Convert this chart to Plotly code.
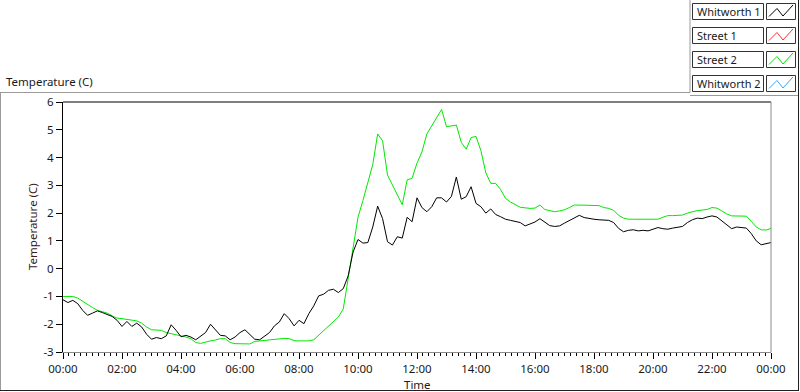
import plotly.graph_objects as go
import pandas as pd

# ---- data (10-minute samples, 00:00 .. 24:00) ----
whitworth1 = [
    -1.12, -1.22, -1.14, -1.26, -1.50, -1.68, -1.60, -1.52, -1.58, -1.64, -1.72, -1.86,
    -2.08, -1.90, -2.08, -1.96, -2.10, -2.36, -2.54, -2.48, -2.52, -2.42, -2.02, -2.22,
    -2.45, -2.40, -2.46, -2.56, -2.44, -2.30, -2.00, -2.22, -2.40, -2.42, -2.56, -2.46,
    -2.30, -2.20, -2.38, -2.54, -2.56, -2.44, -2.30, -2.06, -1.92, -1.62, -1.80, -2.06,
    -1.86, -1.98, -1.62, -1.34, -0.98, -0.92, -0.78, -0.74, -0.86, -0.72, -0.26, 0.60,
    1.05, 0.92, 0.94, 1.50, 2.25, 1.80, 0.97, 0.85, 1.15, 1.10, 1.85, 1.69,
    2.55, 2.20, 2.05, 2.23, 2.55, 2.55, 2.40, 2.60, 3.30, 2.50, 2.59, 2.95,
    2.35, 2.23, 2.00, 2.15, 1.95, 1.87, 1.78, 1.74, 1.70, 1.66, 1.54, 1.62,
    1.68, 1.80, 1.68, 1.55, 1.52, 1.54, 1.64, 1.74, 1.84, 1.92, 1.84, 1.80,
    1.78, 1.76, 1.75, 1.74, 1.66, 1.45, 1.33, 1.38, 1.40, 1.36, 1.38, 1.36,
    1.42, 1.48, 1.44, 1.42, 1.46, 1.50, 1.52, 1.66, 1.76, 1.82, 1.80, 1.86,
    1.90, 1.86, 1.72, 1.55, 1.44, 1.50, 1.48, 1.46, 1.26, 1.00, 0.86, 0.91,
    0.94,
]
street2 = [
    -1.00, -1.00, -1.00, -1.06, -1.18, -1.30, -1.40, -1.50, -1.56, -1.60, -1.70, -1.78,
    -1.80, -1.82, -1.84, -1.88, -1.96, -2.10, -2.20, -2.20, -2.22, -2.30, -2.34, -2.36,
    -2.40, -2.46, -2.52, -2.66, -2.69, -2.64, -2.60, -2.57, -2.52, -2.52, -2.66, -2.70,
    -2.70, -2.71, -2.71, -2.62, -2.60, -2.58, -2.55, -2.53, -2.51, -2.51, -2.52, -2.59,
    -2.60, -2.60, -2.60, -2.56, -2.40, -2.25, -2.06, -1.90, -1.74, -1.45, -0.40, 0.80,
    1.85, 2.45, 3.10, 3.75, 4.85, 4.60, 3.37, 3.00, 2.65, 2.30, 3.20, 3.25,
    3.80, 4.20, 4.85, 5.15, 5.45, 5.73, 5.11, 5.15, 5.17, 4.55, 4.30, 4.72,
    4.76, 4.25, 3.45, 3.07, 3.07, 2.85, 2.53, 2.40, 2.30, 2.21, 2.19, 2.17,
    2.18, 2.29, 2.13, 2.08, 2.05, 2.08, 2.12, 2.20, 2.29, 2.29, 2.29, 2.29,
    2.28, 2.27, 2.20, 2.17, 2.10, 1.92, 1.82, 1.78, 1.78, 1.78, 1.78, 1.78,
    1.78, 1.78, 1.85, 1.91, 1.91, 1.91, 1.93, 2.00, 2.05, 2.09, 2.11, 2.13,
    2.20, 2.18, 2.08, 1.97, 1.90, 1.89, 1.89, 1.89, 1.70, 1.50, 1.40, 1.39,
    1.45,
]
street1 = []
whitworth2 = []

series_names = ["Whitworth 1", "Street 1", "Street 2", "Whitworth 2"]
series_colors = ["#000000", "#ff3030", "#00e800", "#30a8ff"]

y_tickvals = [-3, -2, -1, 0, 1, 2, 3, 4, 5, 6]
y_ticktext = ["-3", "-2", "-1", "0", "1", "2", "3", "4", "5", "6"]

times = pd.date_range("2000-01-01 00:00", "2000-01-02 00:00", freq="10min")

FONT = "Noto Sans"
TXT = "#1a1a1a"

fig = go.Figure()
fig.add_trace(go.Scatter(x=times, y=street2, mode="lines", name=series_names[2],
                         line=dict(color=series_colors[2], width=1)))
fig.add_trace(go.Scatter(x=times[:len(street1)], y=street1, mode="lines", name=series_names[1],
                         line=dict(color=series_colors[1], width=1)))
fig.add_trace(go.Scatter(x=times[:len(whitworth2)], y=whitworth2, mode="lines", name=series_names[3],
                         line=dict(color=series_colors[3], width=1)))
fig.add_trace(go.Scatter(x=times, y=whitworth1, mode="lines", name=series_names[0],
                         line=dict(color=series_colors[0], width=1)))

# plot area in pixels
L, R, T, B = 63, 771, 102, 352
W, H = 800, 392


def px(x):
    return (x - L) / (R - L)


def py(y):
    return (B - y) / (B - T)


shapes = []
# plot frame: top black, right grey
shapes.append(dict(type="line", xref="paper", yref="paper", x0=0, x1=1, y0=1, y1=1,
                   line=dict(color="black", width=1)))
shapes.append(dict(type="line", xref="paper", yref="paper", x0=1, x1=1, y0=0, y1=1,
                   line=dict(color="#8a8a8a", width=1)))
# outer panel frame
grey = "#9a9a9a"
shapes.append(dict(type="line", xref="paper", yref="paper", x0=px(0), x1=px(690),
                   y0=py(92.5), y1=py(92.5), line=dict(color=grey, width=1)))
shapes.append(dict(type="line", xref="paper", yref="paper", x0=px(690), x1=px(690),
                   y0=py(92.5), y1=py(0), line=dict(color=grey, width=1)))
shapes.append(dict(type="line", xref="paper", yref="paper", x0=px(690), x1=px(799),
                   y0=py(95.5), y1=py(95.5), line=dict(color=grey, width=1)))
shapes.append(dict(type="line", xref="paper", yref="paper", x0=px(0.5), x1=px(0.5),
                   y0=py(92.5), y1=py(391), line=dict(color=grey, width=1)))
shapes.append(dict(type="line", xref="paper", yref="paper", x0=px(0), x1=px(799),
                   y0=py(390.5), y1=py(390.5), line=dict(color="#202020", width=1)))
shapes.append(dict(type="line", xref="paper", yref="paper", x0=px(798.5), x1=px(798.5),
                   y0=py(0), y1=py(391), line=dict(color="#202020", width=1)))

annotations = []
# legend (manual, LabVIEW style)
for i, (name, col) in enumerate(zip(series_names, series_colors)):
    top = 3.5 + 24 * i
    bot = top + 16
    shapes.append(dict(type="rect", xref="paper", yref="paper", x0=px(692.5), x1=px(763.5),
                       y0=py(bot), y1=py(top), line=dict(color="#333333", width=1),
                       fillcolor="white"))
    shapes.append(dict(type="rect", xref="paper", yref="paper", x0=px(766.5), x1=px(795.5),
                       y0=py(bot), y1=py(top), line=dict(color="#333333", width=1),
                       fillcolor="white"))
    pts = [(769, top + 13), (777, top + 5), (783, top + 12.5), (793, top + 1.5)]
    path = "M " + " L ".join(f"{px(a):.5f},{py(b):.5f}" for a, b in pts)
    shapes.append(dict(type="path", xref="paper", yref="paper", path=path,
                       line=dict(color=col, width=1)))
    annotations.append(dict(text=name, xref="paper", yref="paper", x=px(694.5), y=py(top + 8),
                            xanchor="left", yanchor="middle", showarrow=False,
                            font=dict(family=FONT, size=11, color=TXT)))

# titles
annotations.append(dict(text="Temperature (C)", xref="paper", yref="paper", x=px(4), y=py(82),
                        xanchor="left", yanchor="middle", showarrow=False,
                        font=dict(family=FONT, size=11.5, color=TXT)))
annotations.append(dict(text="Temperature (C)", xref="paper", yref="paper", x=px(32), y=0.5,
                        xanchor="center", yanchor="middle", showarrow=False, textangle=-90,
                        font=dict(family=FONT, size=11.5, color="#3a1a1a")))
annotations.append(dict(text="Time", xref="paper", yref="paper", x=0.5, y=py(384),
                        xanchor="center", yanchor="middle", showarrow=False,
                        font=dict(family=FONT, size=11.5, color=TXT)))

fig.update_layout(
    width=W, height=H,
    margin=dict(l=L, r=W - R, t=T, b=H - B),
    paper_bgcolor="white", plot_bgcolor="white",
    showlegend=False,
    shapes=shapes, annotations=annotations,
    font=dict(family=FONT, size=11, color=TXT),
)
fig.update_xaxes(
    range=[times[0], times[-1]], type="date",
    tickformat="%H:%M", dtick=2 * 3600 * 1000, tick0=times[0],
    ticks="outside", ticklen=6, tickcolor="black", tickwidth=1,
    minor=dict(dtick=12 * 60 * 1000, ticks="outside", ticklen=3, tickcolor="black", tickwidth=1),
    showgrid=False, zeroline=False,
    showline=True, linecolor="#8a8a8a", linewidth=1,
    tickfont=dict(family=FONT, size=11.5, color=TXT),
)
fig.update_yaxes(
    range=[-3, 6], tickvals=y_tickvals, ticktext=y_ticktext,
    ticks="outside", ticklen=6, tickcolor="black", tickwidth=1,
    showgrid=False, zeroline=False,
    showline=True, linecolor="black", linewidth=1,
    tickfont=dict(family=FONT, size=11.5, color=TXT),
)

fig.write_html(
    "out.html",
    config={"displayModeBar": False},
    post_script="document.body.style.margin='0';document.body.style.overflow='hidden';",
)
